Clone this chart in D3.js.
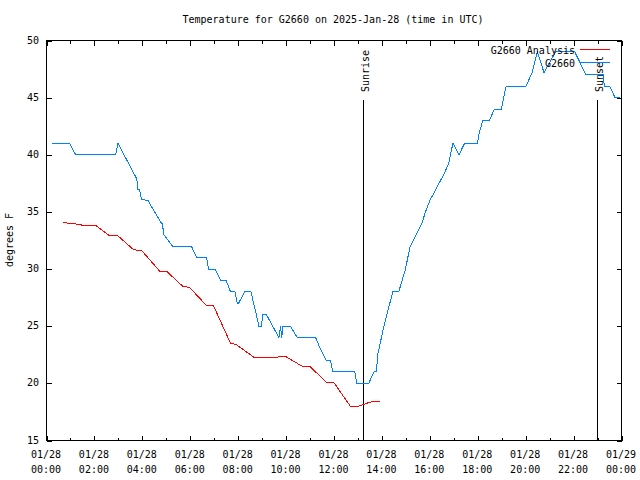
<!DOCTYPE html>
<html><head><meta charset="utf-8">
<script src="https://cdn.jsdelivr.net/npm/d3@7"></script>
<style>
body{margin:0;background:#fff;}
svg{display:block;}
text{font-family:"DejaVu Sans Mono",monospace;font-size:10px;fill:#000;}
</style></head>
<body>
<svg id="chart" width="640" height="480"></svg>
<script>
const title = "Temperature for G2660 on 2025-Jan-28 (time in UTC)";
const yLabel = "degrees F";
const obsName = "G2660";
const anaName = "G2660 Analysis";

const obsTimes = ["00:13","00:58","01:13","02:53","02:59","03:46","03:49","03:53","03:58","04:14","04:47","04:50","04:54","05:16","06:03","06:16","06:41","06:46","07:02","07:16","07:30","07:41","07:52","07:58","08:01","08:16","08:32","08:45","08:52","08:58","09:02","09:11","09:42","09:46","09:49","09:52","09:57","10:11","10:28","11:14","11:26","11:41","11:51","11:57","12:52","12:57","13:27","13:40","13:46","13:50","14:05","14:22","14:27","14:42","14:59","15:10","15:20","15:41","15:49","16:00","16:14","16:35","16:47","16:52","16:58","17:13","17:27","17:59","18:04","18:13","18:29","18:42","18:59","19:11","20:01","20:16","20:29","20:46","21:15","22:03","22:31","23:14","23:17","23:30","23:44","23:55"];
const obsTemps = [41,41,40,40,41,37.9,37,37,36.1,36,34.05,34,33,32,32,31,31,30,30,29,29,28,28,27,27,28,28,26.1,25,25,26,26,24,25,24,25,25,25,24,24,23,22,22,21,21,20,20,21,21,22.6,25,27.3,28,28,30,31.9,32.6,34.1,35,36,36.9,38.3,39.2,40.1,41,40,41,41,42,43,43,44,44,46,46,47.2,49,47.2,49,49,47,47,46,46,45,45];

const anaTimes = ["00:42","01:04","01:20","01:37","02:04","02:38","02:59","03:38","03:59","04:44","05:01","05:41","05:58","06:41","06:58","07:41","07:55","08:41","09:17","09:59","10:40","10:59","11:41","11:59","12:41","13:00","13:14","13:29","13:56"];
const anaTemps = [34.05,34.0,33.9,33.8,33.8,32.9,32.9,31.7,31.6,29.8,29.8,28.5,28.4,26.8,26.8,23.5,23.4,22.25,22.25,22.35,21.5,21.5,20.1,20.1,18.0,18.0,18.15,18.35,18.45];

const xTickHours = [0,2,4,6,8,10,12,14,16,18,20,22,24];
const xTickDates = ["01/28","01/28","01/28","01/28","01/28","01/28","01/28","01/28","01/28","01/28","01/28","01/28","01/29"];
const xTickTimes = ["00:00","02:00","04:00","06:00","08:00","10:00","12:00","14:00","16:00","18:00","20:00","22:00","00:00"];
const yTicks = [15,20,25,30,35,40,45,50];
const sunEvents = [{name:"Sunrise", time:"13:14"},{name:"Sunset", time:"23:01"}];

const toH = s => { const [h,m] = s.split(":").map(Number); return h + m/60; };

const svg = d3.select("#chart");
const L = 46, R = 621, T = 40, B = 440;
const x = d3.scaleLinear().domain([0,24]).range([L,R]);
const y = d3.scaleLinear().domain([15,50]).range([B,T]);

// title
svg.append("text").attr("x",333).attr("y",23).attr("text-anchor","middle").text(title);
// y label
svg.append("text").attr("transform","translate(13,240) rotate(-90)").attr("text-anchor","middle").text(yLabel);

const g = svg.append("g").attr("transform","translate(0.5,0.5)");

// frame
g.append("rect").attr("x",L).attr("y",T).attr("width",R-L).attr("height",B-T)
  .attr("fill","none").attr("stroke","#000").attr("shape-rendering","crispEdges");

// ticks (inward), majors and hourly minors
const minorH = d3.range(1,24,2);
const axB = g.append("g").attr("transform",`translate(0,${B})`)
  .call(d3.axisBottom(x).tickValues(xTickHours).tickSize(-5).tickFormat(""));
const axBm = g.append("g").attr("transform",`translate(0,${B})`)
  .call(d3.axisBottom(x).tickValues(minorH).tickSize(-3).tickFormat(""));
const axT = g.append("g").attr("transform",`translate(0,${T})`)
  .call(d3.axisTop(x).tickValues(xTickHours).tickSize(-5).tickFormat(""));
const axTm = g.append("g").attr("transform",`translate(0,${T})`)
  .call(d3.axisTop(x).tickValues(minorH).tickSize(-3).tickFormat(""));
const axL = g.append("g").attr("transform",`translate(${L},0)`)
  .call(d3.axisLeft(y).tickValues(yTicks).tickSize(-5).tickFormat(""));
const axR = g.append("g").attr("transform",`translate(${R},0)`)
  .call(d3.axisRight(y).tickValues(yTicks).tickSize(-5).tickFormat(""));
[axB,axBm,axT,axTm,axL,axR].forEach(a=>{
  a.select(".domain").remove();
  a.selectAll("line").attr("stroke","#000").attr("shape-rendering","crispEdges");
});

// x tick labels
xTickHours.forEach((h,i)=>{
  const t = svg.append("text").attr("x",x(h)).attr("y",458).attr("text-anchor","middle");
  t.append("tspan").attr("x",x(h)).attr("y",458).text(xTickDates[i]);
  t.append("tspan").attr("x",x(h)).attr("y",473).text(xTickTimes[i]);
});
// y tick labels
yTicks.forEach(v=>{
  svg.append("text").attr("x",39).attr("y",y(v)).attr("dy","0.35em").attr("text-anchor","end").text(v);
});

// sun events
sunEvents.forEach(ev=>{
  const xv = Math.round(x(toH(ev.time)));
  g.append("line").attr("x1",xv).attr("x2",xv).attr("y1",99).attr("y2",B)
    .attr("stroke","#000").attr("shape-rendering","crispEdges");
  svg.append("text").attr("transform",`translate(${xv+2},92) rotate(-90)`)
    .attr("dominant-baseline","central").attr("text-anchor","start").text(ev.name);
});

// lines
const line = d3.line().x(d=>x(d[0])).y(d=>y(d[1]));
const anaData = anaTimes.map((t,i)=>[toH(t),anaTemps[i]]);
const obsData = obsTimes.map((t,i)=>[toH(t),obsTemps[i]]);
g.append("path").datum(anaData).attr("d",line).attr("fill","none")
  .attr("stroke","#ff0000").attr("stroke-width",1).attr("shape-rendering","crispEdges");
g.append("path").datum(obsData).attr("d",line).attr("fill","none")
  .attr("stroke","#0080ff").attr("stroke-width",1).attr("shape-rendering","crispEdges");

// legend
const legend = [{name:anaName,color:"#ff0000",y:50},{name:obsName,color:"#0080ff",y:63}];
legend.forEach(d=>{
  svg.append("text").attr("x",575).attr("y",d.y).attr("dy","0.35em").attr("text-anchor","end").text(d.name);
  svg.append("rect").attr("x",580).attr("y",d.y-1).attr("width",30).attr("height",1)
    .attr("fill",d.color).attr("shape-rendering","crispEdges");
});
</script>
</body></html>
